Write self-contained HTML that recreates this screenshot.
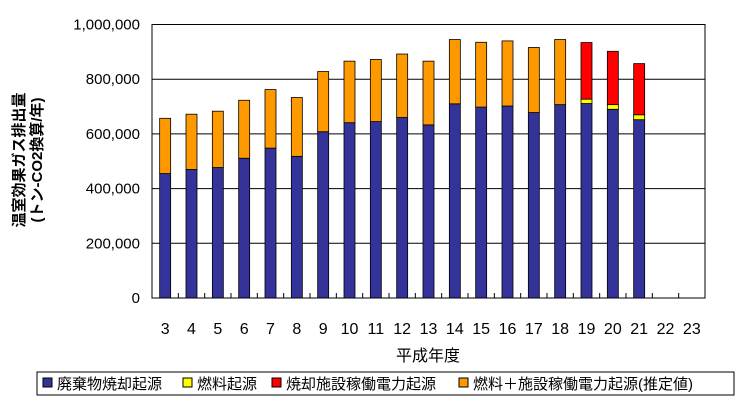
<!DOCTYPE html>
<html><head><meta charset="utf-8"><style>
body{margin:0;background:#fff;font-family:"Liberation Sans","Noto Sans CJK JP",sans-serif}
svg text{font-family:"Liberation Sans","Noto Sans CJK JP",sans-serif}
</style></head><body>
<svg id="c" width="740" height="406" xmlns="http://www.w3.org/2000/svg">
<g id="grid"></g>
<g id="bars"></g>
<g id="axes"></g>
<text x="24" y="160" transform="rotate(-90 24 160)" text-anchor="middle" font-size="15" font-weight="bold">温室効果ガス排出量</text>
<text x="42" y="160" transform="rotate(-90 42 160)" text-anchor="middle" font-size="15" font-weight="bold">(トン-CO2換算/年)</text>
<text x="428" y="361" text-anchor="middle" font-size="16">平成年度</text>
<g>
<rect x="37" y="372" width="697" height="23" fill="#fff" stroke="#000" stroke-width="1"/>
<g><rect x="43" y="378" width="9" height="9" fill="#333399" stroke="#000"/><text x="57" y="389" font-size="15">廃棄物焼却起源</text></g>
<g><rect x="183" y="378" width="9" height="9" fill="#ffff00" stroke="#000"/><text x="197" y="389" font-size="15">燃料起源</text></g>
<g><rect x="272" y="378" width="9" height="9" fill="#ff0000" stroke="#000"/><text x="286" y="389" font-size="15">焼却施設稼働電力起源</text></g>
<g><rect x="459" y="378" width="9" height="9" fill="#ff9900" stroke="#000"/><text x="473" y="389" font-size="15">燃料＋施設稼働電力起源(推定値)</text></g>
</g>
</svg>
<script>
const categories=["3","4","5","6","7","8","9","10","11","12","13","14","15","16","17","18","19","20","21","22","23"];
const wasteValues=[455000,470000,477000,511000,548000,518000,608000,641000,645000,660000,633000,710000,698000,702000,678000,707000,711000,690000,652000,null,null];
const fuelValues=[0,0,0,0,0,0,0,0,0,0,0,0,0,0,0,0,16000,17000,18000,null,null];
const powerValues=[0,0,0,0,0,0,0,0,0,0,0,0,0,0,0,0,207000,195000,187000,null,null];
const estimatedValues=[202000,202000,206000,212000,214000,215000,220000,225000,227000,232000,233000,235000,237000,238000,238000,238000,0,0,0,null,null];
const yTicks=[0,200000,400000,600000,800000,1000000];
const yTickLabels=["0","200,000","400,000","600,000","800,000","1,000,000"];
const NS="http://www.w3.org/2000/svg";
const L=152,R=705,T=24.5,B=298,yMax=1000000;
const bw=(R-L)/categories.length;
function y(v){return B-(v/yMax)*(B-T);}
function x(i){return L+bw*i+bw/2;}
const grid=document.getElementById('grid'),bars=document.getElementById('bars'),axes=document.getElementById('axes');
yTicks.forEach((t,i)=>{
 const ln=document.createElementNS(NS,'line');
 
 
 ln.setAttribute('x1',L);ln.setAttribute('x2',R);ln.setAttribute('y1',y(t));ln.setAttribute('y2',y(t));
 ln.setAttribute('stroke','#000');ln.setAttribute('stroke-width','1');
 grid.appendChild(ln);
 const tx=document.createElementNS(NS,'text');
 
 
 tx.setAttribute('x',L-12);tx.setAttribute('y',y(t)+5);tx.setAttribute('text-anchor','end');tx.setAttribute('font-size','15');
 tx.textContent=yTickLabels[i];axes.appendChild(tx);
});
const series=[[wasteValues,'#333399'],[fuelValues,'#ffff00'],[powerValues,'#ff0000'],[estimatedValues,'#ff9900']];
const names=['bar-waste','bar-fuel','bar-power','bar-estimated'];
categories.forEach((c,i)=>{
 let base=0;
 series.forEach((s,k)=>{
  const v=s[0][i];if(!v)return;
  const r=document.createElementNS(NS,'rect');
  
  
  r.setAttribute('x',x(i)-5.5);r.setAttribute('width',11);
  r.setAttribute('y',y(base+v));r.setAttribute('height',y(base)-y(base+v));
  r.setAttribute('fill',s[1]);r.setAttribute('stroke','#000');r.setAttribute('stroke-width','0.8');
  bars.appendChild(r);base+=v;
 });
 const tx=document.createElementNS(NS,'text');
 
 
 tx.setAttribute('x',x(i));tx.setAttribute('y',334);tx.setAttribute('text-anchor','middle');tx.setAttribute('font-size','16');
 tx.textContent=c;axes.appendChild(tx);
 if(i>0){const tk=document.createElementNS(NS,'line');
 
 
 tk.setAttribute('x1',L+bw*i);tk.setAttribute('x2',L+bw*i);tk.setAttribute('y1',B);tk.setAttribute('y2',B-5);tk.setAttribute('stroke','#000');axes.appendChild(tk);}
});
const fr=document.createElementNS(NS,'rect');


fr.setAttribute('x',L);fr.setAttribute('y',T);fr.setAttribute('width',R-L);fr.setAttribute('height',B-T);
fr.setAttribute('fill','none');fr.setAttribute('stroke','#000');fr.setAttribute('stroke-width','1');
axes.appendChild(fr);
</script>
</body></html>
